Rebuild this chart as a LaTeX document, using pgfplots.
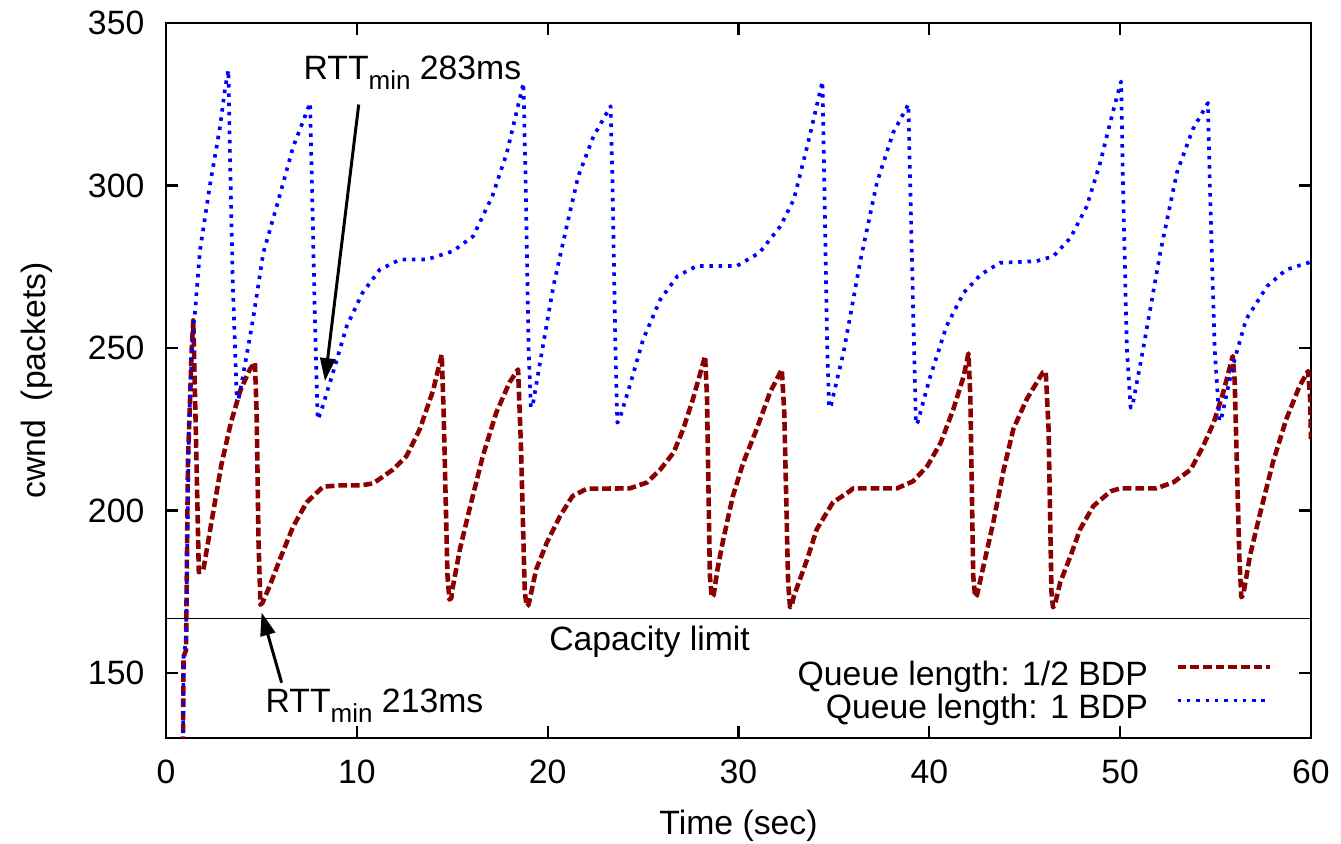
\documentclass[border=0pt]{standalone}
\usepackage{fontspec}
\setmainfont{Liberation Sans}
\usepackage{pgfplots}
\pgfplotsset{compat=1.18}
\usetikzlibrary{arrows.meta}
\definecolor{dkred}{RGB}{139,0,0}
\definecolor{gblue}{RGB}{0,0,255}
\newcommand{\subm}{\raisebox{-2.85pt}{\fontsize{7.4}{8}\selectfont min}}
\begin{document}
\fontsize{9.6}{11.5}\selectfont
\begin{tikzpicture}
\useasboundingbox (-16.6mm,-10.6mm) rectangle (117.5mm,73.8mm);
\begin{axis}[
  scale only axis, width=114.5mm, height=71.5mm,
  xmin=0, xmax=60, ymin=130, ymax=350,
  xtick={0,10,...,60}, ytick={150,200,...,350},
  axis line style={line width=0.65pt},
  tick style={line width=0.6pt, black},
  major tick length=1.2mm,
  /pgf/number format/assume math mode=true,
  tick label style={font=\fontsize{9.6}{11.5}\selectfont},
  xticklabel style={anchor=base, yshift=-4.53mm},
  yticklabel style={anchor=east, inner sep=0pt, xshift=-2.1mm},
  xlabel={Time (sec)}, ylabel={cwnd\ \ (packets)},
  label style={font=\fontsize{9.6}{11.5}\selectfont},
  xlabel style={at={(axis description cs:0.5,-0.1347)}, anchor=base},
  ylabel style={at={(axis description cs:-0.1052,0.5)}, anchor=base},
  legend style={at={(axis description cs:0.9659,0.1085)}, anchor=north east,
    draw=none, fill=none, inner sep=0pt, outer sep=0pt, row sep=0pt,
    nodes={inner sep=0pt, text height=7pt, text depth=2.48pt, font=\fontsize{9.6}{11.5}\selectfont},
    /tikz/every odd column/.append style={column sep=2.75mm}},
  legend cell align=right, legend plot pos=right,
  legend image code/.code={\draw[#1] (0mm,1mm) -- (9.2mm,1mm);},
]
\addplot[color=dkred, line width=1.3pt, line join=round, dash pattern=on 2.5pt off 1.1pt] coordinates {
(0.88,120) (0.92,155) (1.05,157) (1.15,215) (1.35,250) (1.43,258.5) (1.6,215) (1.72,181) (1.95,181.5)
(2.4,197) (2.9,214) (3.4,227) (3.9,237) (4.4,243.5) (4.66,245.5) (4.75,230) (4.85,190) (4.95,171)
(5.05,171.5) (5.45,177) (5.97,185) (6.66,195) (7.37,202.5) (8.23,207.3) (9,207.7) (10.17,207.7)
(10.85,208.3) (11.9,212.6) (12.6,216.7) (13.3,225) (14.0,237) (14.45,248) (14.55,230) (14.75,180)
(14.85,172.6) (14.95,173) (15.04,176.7) (15.4,188) (15.9,200.3) (16.6,216.7) (17.3,230) (18.0,239.4) (18.45,243.4)
(18.6,220) (18.8,175) (18.9,170.5) (19.0,171) (19.4,181.9) (19.95,190) (20.65,198.3) (21.3,204.4) (22.05,206.7)
(24.3,206.8) (25.2,208.6) (25.9,212.6) (26.6,217.8) (27.1,225) (27.6,234) (28.25,247.5) (28.35,235)
(28.5,180) (28.6,173.3) (28.7,174) (28.9,181.9) (29.2,191) (29.7,204.3) (30.25,214.7) (30.95,225) (31.65,236.3)
(32.27,243.4) (32.4,230) (32.6,178) (32.7,170.2) (32.8,171) (32.9,173.6) (33.6,185) (34.1,194.2) (34.95,202.5)
(35.85,206) (36.0,206.8) (38.3,206.8) (39.15,209) (39.9,213.7) (40.6,220.9) (41.25,231) (41.8,241.3)
(42.05,248.3) (42.15,235) (42.3,180) (42.4,173.3) (42.5,174) (42.8,181.9) (43.35,196.3) (43.9,212.6) (44.4,225)
(45.1,234.2) (45.95,242.5) (46.1,242.8) (46.25,225) (46.4,175) (46.48,170.2) (46.58,171) (46.86,177.9) (47.4,186)
(47.9,194.2) (48.6,201.4) (49.5,205.9) (50.0,206.8) (51.9,206.8) (52.8,208.7) (53.7,212.6) (54.35,219.8)
(54.9,227) (55.4,236.3) (55.9,247.5) (56.0,240) (56.25,185) (56.35,173.3) (56.45,174) (56.8,186) (57.3,198.3)
(58.0,214.7) (58.7,228) (59.4,238.3) (59.85,242.9) (59.95,235) (60,222)
};
\addlegendentry{Queue length: 1/2 BDP}
\addplot[color=gblue, line width=1.05pt, line join=round, dash pattern=on 1.0pt off 1.65pt] coordinates {
(0.88,120) (0.92,155) (1.05,160) (1.2,225) (1.4,255) (1.52,261) (1.78,280) (2.3,300) (2.83,318)
(3.1,330) (3.27,335.5) (3.35,310) (3.5,270) (3.7,236) (3.8,234.2) (4.0,240.3) (4.56,258.8) (5.1,279.3)
(5.8,293.6) (6.67,312) (7.2,320) (7.55,325.4) (7.65,300) (7.8,260) (7.95,228) (8.1,230) (8.75,242.4)
(9.47,256.7) (10.3,267) (11.2,274.1) (12.26,277.2) (13.66,277.2) (15.04,279.8) (16.1,284.4) (17.1,296.7)
(17.86,310) (18.4,323.3) (18.73,331.5) (18.85,300) (19.0,250) (19.12,231.7) (19.22,232.5) (19.6,245.5) (20.3,269)
(21.0,287.5) (21.6,302.8) (22.4,315.1) (23.3,324.4) (23.4,300) (23.55,250) (23.65,227) (23.75,227.8) (24.3,238.3)
(25.0,252.6) (25.9,264.9) (26.8,272.1) (27.8,275.2) (29.9,275.2) (31.1,279.3) (32.2,287.5) (32.9,295.7)
(33.6,312) (34.4,332) (34.5,300) (34.65,250) (34.75,231.6) (34.85,232.4) (35.5,248.5) (36.4,277.2) (37.25,300.8)
(38.1,316.2) (38.9,324.9) (39.0,300) (39.2,250) (39.3,226.5) (39.4,227.3) (40.0,240.3) (40.9,256.7) (41.8,267)
(42.7,272.6) (43.7,276.2) (45.6,276.7) (46.5,278.2) (47.4,283.9) (48.25,293.6) (48.95,306.9) (49.65,323.3)
(50.05,332) (50.15,300) (50.35,250) (50.55,231.6) (50.65,232.4) (51.2,249.5) (52.1,279.3) (52.97,303.9) (53.8,317.2)
(54.6,325.4) (54.7,300) (54.95,250) (55.2,227.5) (55.3,228.3) (55.9,244.4) (56.6,258.8) (57.7,269) (58.7,274.1)
(59.95,276.4) (60,276.4)
};
\addlegendentry{Queue length: 1 BDP}
\addplot[black, line width=0.5pt, forget plot] coordinates {(0,166.8) (60,166.8)};
\node[anchor=base west, inner sep=0pt] at (axis cs:20.05,156.77) {Capacity limit};
\node[anchor=base west, inner sep=0pt] at (axis cs:7.18,332.6) {RTT\subm{} 283ms};
\node[anchor=base west, inner sep=0pt] at (axis cs:5.19,137.8) {RTT\subm{} 213ms};
\draw[line width=0.85pt, -{Triangle[length=2.3mm,width=1.5mm]}] (axis cs:10.1,324.9) -- (axis cs:8.33,239.8);
\draw[line width=0.85pt, -{Triangle[length=2.3mm,width=1.5mm]}] (axis cs:6.06,147.0) -- (axis cs:5.01,168.6);
\end{axis}
\end{tikzpicture}
\end{document}
